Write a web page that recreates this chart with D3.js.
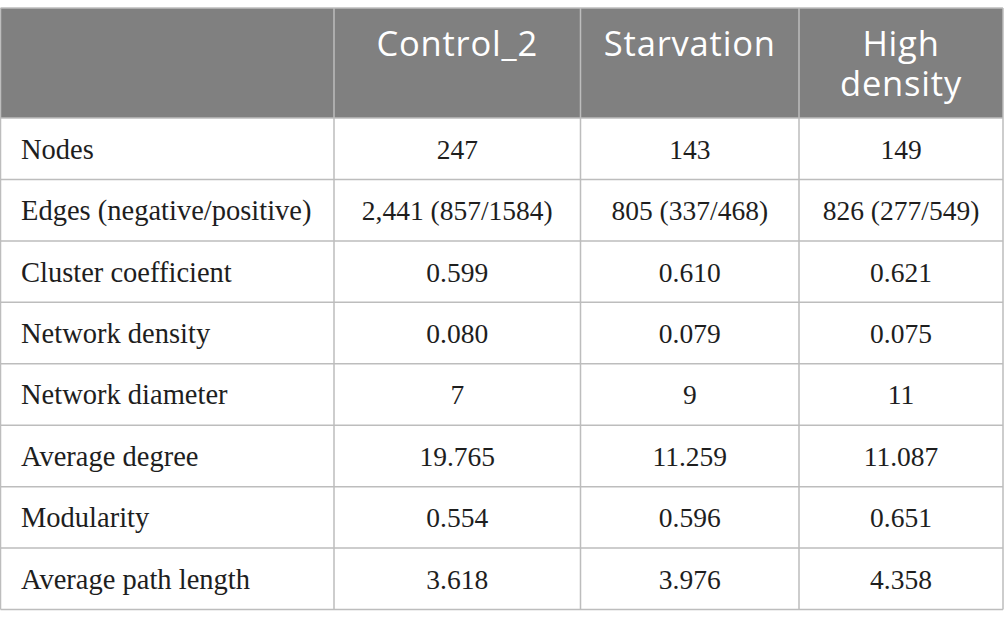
<!DOCTYPE html>
<html>
<head>
    <meta charset="utf-8">
    <script src="https://d3js.org/d3.v7.min.js"></script>
    <style>
        body { margin: 0; background: #fff; }
    </style>
</head>
<body>
    <div id="cont"></div>

    <script>
        // table contents
        var headers = ["", "Control_2", "Starvation", "High density"];
        var rowLabels = ["Nodes", "Edges (negative/positive)", "Cluster coefficient", "Network density",
            "Network diameter", "Average degree", "Modularity", "Average path length"];
        var control2 = ["247", "2,441 (857/1584)", "0.599", "0.080", "7", "19.765", "0.554", "3.618"];
        var starvation = ["143", "805 (337/468)", "0.610", "0.079", "9", "11.259", "0.596", "3.976"];
        var highDensity = ["149", "826 (277/549)", "0.621", "0.075", "11", "11.087", "0.651", "4.358"];

        var width = 1004, height = 628;
        var tableTop = 8, headH = 110, tableBottom = 609.5;
        var colEdges = [0.5, 334, 580.5, 799, 1003];

        var svg = d3.select("#cont").append("svg")
            .attr("width", width)
            .attr("height", height);

        var y = d3.scaleBand()
            .domain(d3.range(rowLabels.length))
            .range([tableTop + headH, tableBottom]);

        var cols = [rowLabels, control2, starvation, highDensity];

        // header background
        svg.append("rect")
            .attr("x", colEdges[0]).attr("y", tableTop)
            .attr("width", colEdges[4] - colEdges[0]).attr("height", headH)
            .attr("fill", "#808080");

        // header text, "High density" wraps onto two lines
        var headLines = headers.map(function(h) {
            if (!h) return [];
            return h == "High density" ? h.split(" ") : [h];
        });
        headLines.forEach(function(lines, c) {
            var cx = (colEdges[c] + colEdges[c + 1]) / 2;
            svg.selectAll(null).data(lines).enter().append("text")
                .attr("x", cx)
                .attr("y", function(d, i) { return tableTop + 48 + i * 40; })
                .attr("text-anchor", "middle")
                .attr("font-family", "'Open Sans', sans-serif")
                .attr("font-size", 34.5)
                .attr("letter-spacing", 0.8)
                .attr("fill", "#ffffff")
                .text(function(d) { return d; });
        });

        // horizontal rules
        var rules = [tableTop, tableTop + headH].concat(d3.range(rowLabels.length).map(function(i) { return y(i) + y.bandwidth(); }));
        svg.selectAll(".hrule").data(rules).enter().append("line")
            .attr("class", "hrule")
            .attr("x1", colEdges[0]).attr("x2", colEdges[4])
            .attr("y1", function(d) { return d; }).attr("y2", function(d) { return d; })
            .attr("stroke", "#bdbdbd")
            .attr("stroke-width", 1.5);

        // vertical rules
        svg.selectAll(".vrule").data(colEdges).enter().append("line")
            .attr("class", "vrule")
            .attr("x1", function(d) { return d; }).attr("x2", function(d) { return d; })
            .attr("y1", tableTop).attr("y2", tableBottom)
            .attr("stroke", "#bdbdbd")
            .attr("stroke-width", 1.5);

        // body cells
        cols.forEach(function(vals, c) {
            svg.selectAll(null).data(vals).enter().append("text")
                .attr("x", c == 0 ? 21 : (colEdges[c] + colEdges[c + 1]) / 2)
                .attr("y", function(d, i) { return y(i) + y.bandwidth() / 2 + 10; })
                .attr("text-anchor", c == 0 ? "start" : "middle")
                .attr("font-family", "'Liberation Serif', serif")
                .attr("font-size", c == 0 ? 28.5 : 27.5)
                .attr("fill", "#1e1e1e")
                .text(function(d) { return d; });
        });
    </script>
</body>
</html>
